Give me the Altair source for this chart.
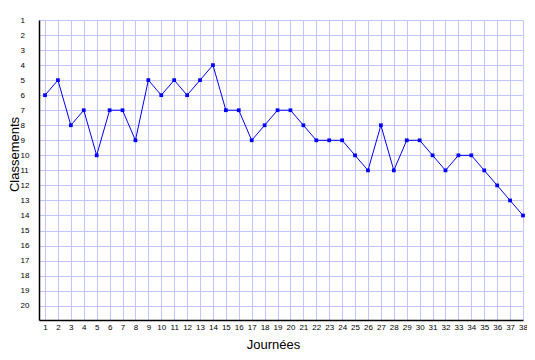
import altair as alt
import pandas as pd

journees = list(range(1, 39))
classements = [6, 5, 8, 7, 10, 7, 7, 9, 5, 6, 5, 6, 5, 4, 7, 7, 9, 8, 7, 7,
               8, 9, 9, 9, 10, 11, 8, 11, 9, 9, 10, 11, 10, 10, 11, 12, 13, 14]
x_ticks = list(range(1, 39))
y_ticks = list(range(1, 21))

df = pd.DataFrame({"Journées": journees, "Classements": classements})

chart = alt.Chart(df).mark_line(
    color="#0000ff", strokeWidth=1,
    point=alt.OverlayMarkDef(shape="square", size=14, filled=True, color="#0000ff", opacity=1),
).encode(
    x=alt.X("Journées:Q",
            scale=alt.Scale(domain=[0.5356, 38], nice=False, zero=False),
            axis=alt.Axis(values=x_ticks, title="Journées", ticks=False,
                          labelPadding=3, labelFontSize=8, labelFont="Liberation Sans",
                          labelColor="#000", domainColor="#000", domainWidth=1.5,
                          gridColor="#c4c4ff", gridWidth=1, gridOpacity=1,
                          titleFont="Liberation Sans", titleFontSize=13, titleFontWeight="normal",
                          titleX=234, titleY=24, titleBaseline="middle", titleAlign="center",
                          labelFlush=False, labelOverlap=False)),
    y=alt.Y("Classements:Q",
            scale=alt.Scale(domain=[1, 20.95], nice=False, zero=False, reverse=True),
            axis=alt.Axis(values=y_ticks, title="Classements", ticks=False,
                          labelPadding=19, labelAlign="left", labelBaseline="middle",
                          labelFontSize=8, labelFont="Liberation Sans", labelColor="#000",
                          domainColor="#000", domainWidth=1.5,
                          gridColor="#c4c4ff", gridWidth=1, gridOpacity=1,
                          titleFont="Liberation Sans", titleFontSize=13, titleFontWeight="normal",
                          titleX=-25, titleY=134, titleAngle=270, titleBaseline="middle",
                          titleAlign="center", labelFlush=False, labelOverlap=False)),
).properties(
    width=484, height=300,
    autosize=alt.AutoSizeParams(type="none"),
    padding={"left": 31, "top": 12, "right": 4, "bottom": 35},
).configure_view(stroke=None)

chart.save("out.html", embed_options={"renderer": "svg", "actions": False})
